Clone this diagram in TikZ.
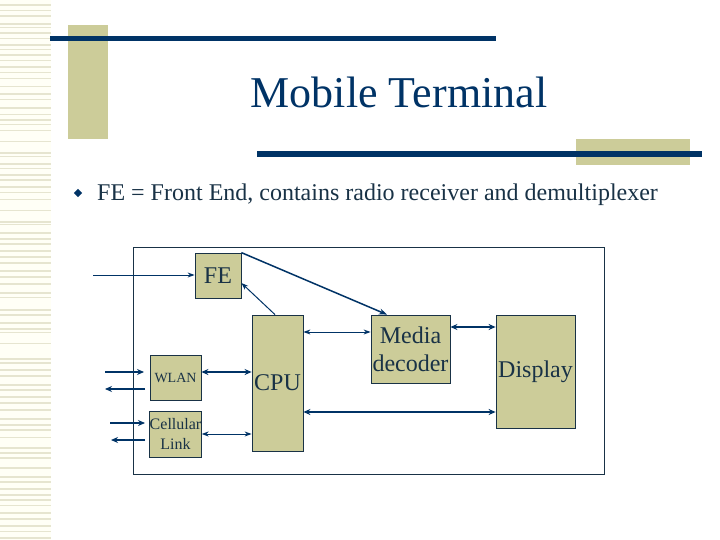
\documentclass[tikz,border=0pt]{standalone}
\usepackage{fontspec}
\setmainfont{Liberation Serif}
\usetikzlibrary{calc,arrows.meta}
\definecolor{navy}{RGB}{0,51,102}
\definecolor{olive}{RGB}{204,204,153}
\definecolor{txt}{RGB}{25,50,70}
\definecolor{cream}{RGB}{255,255,246}
\definecolor{stripe}{RGB}{230,229,208}
\tikzset{
  blk/.style={draw=txt, line width=0.8pt, fill=olive, text=txt, inner sep=0pt, align=center, font=\fontsize{24}{28}\selectfont},
  thin/.style={draw=navy, line width=1pt, -{Stealth[length=7pt,width=5pt]}},
  thk/.style={draw=navy, line width=2pt, -{Stealth[length=7pt,width=6pt]}},
  thinb/.style={draw=navy, line width=1pt, {Stealth[length=7pt,width=5pt]}-{Stealth[length=7pt,width=5pt]}},
  thkb/.style={draw=navy, line width=2pt, {Stealth[length=7pt,width=6pt]}-{Stealth[length=7pt,width=6pt]}},
}
\begin{document}
\begin{tikzpicture}[x=1pt,y=-1pt]
\useasboundingbox (0,0) rectangle (720,540);
\fill[white] (0,0) rectangle (720,540);
% left striped strip
\fill[cream] (0,0) rectangle (51,540);
\foreach \y/\h in {4/2,10/1.5,15/2,23/2,27/1,32/2,38/1.5,44/2,49/1,54/2,60/1.5,66/2,72/1,78/1.5,86/1,93/2,99/1.5,107/2,114/1.5,119/2,124/1,130/1.5,141/1,152/2,156/1.5,163/2,168/1.5,174/2,179/2,186/2,192/1,199/1.5,210/1,221/2,224/1.5,232/2,238/1.5,243/2,250/1.5,256/2,262/1.5,270/2,276/2,283/2,292/1.5,297/1,309/2,314/1.5,322/1.5,328/2,332/1,343/1,358/2,362/1.5,369/2,375/1.5,384/2,389/1.5,396/2,402/1.5,409/2,418/2,424/1.5,429/2,437/1,447/2,452/1.5,457/2,467/1.5,476/2,481/1.5,488/2,494/1.5,499/2,505/1,512/2,518/1.5,525/2,531/1,537/1.5}
  \fill[stripe] (0,\y) rectangle (51,\y+\h);
% decorations
\fill[olive] (68,25) rectangle (108,139);
\fill[navy] (50,36) rectangle (496,41);
\fill[olive] (576,139) rectangle (690,165);
\fill[navy] (257,151) rectangle (702,157);
% title
\node[text=navy, font=\fontsize{44}{50}\selectfont, anchor=base] (title) at (399,108) {Mobile Terminal};
% bullet
\node[fill=navy, shape=rectangle, rotate=45, inner sep=0pt, minimum width=6pt, minimum height=6pt] (bul) at (78,193) {};
\node[anchor=base west, text=txt, font=\fontsize{24}{28}\selectfont, inner sep=0pt] (btxt) at (97,201) {FE = Front End, contains radio receiver and demultiplexer};
% outer frame
\draw[draw=txt, line width=0.8pt] (133,247) rectangle (604,474);
% blocks
\node[blk, minimum width=46pt, minimum height=45pt] (FE) at (218,275.5) {FE};
\node[blk, minimum width=51pt, minimum height=136pt] (CPU) at (277.5,383) {CPU};
\node[blk, minimum width=51pt, minimum height=45pt, font=\fontsize{14}{16}\selectfont] (WLAN) at (175.5,377.5) {WLAN};
\node[blk, minimum width=51pt, minimum height=46pt, font=\fontsize{16}{20}\selectfont] (Cell) at (175.5,434) {Cellular\\Link};
\node[blk, minimum width=79pt, minimum height=68pt] (Media) at (410.5,349) {Media\\decoder};
\node[blk, minimum width=79pt, minimum height=113pt] (Disp) at (535.5,371.5) {Display};
% free ends
\coordinate (inA) at (93,275);
\coordinate (w1a) at (105,372); \coordinate (w1b) at (144,372);
\coordinate (w2a) at (145,389); \coordinate (w2b) at (105,389);
\coordinate (c1a) at (110,423); \coordinate (c1b) at (145,423);
\coordinate (c2a) at (145,440); \coordinate (c2b) at (111,440);
% connection points
\coordinate (cpuTop) at ($(CPU.north)+(-2.5,0)$);
\coordinate (feIn) at ($(FE.east)+(0,7.5)$);
\coordinate (mdTop) at ($(Media.north)+(-23.5,0)$);
\coordinate (wlR) at ($(WLAN.east)+(0,-5.5)$);
\coordinate (mdL) at ($(Media.west)+(0,-17)$);
\coordinate (mdR) at ($(Media.east)+(0,-22)$);
\coordinate (dsL) at ($(Disp.west)+(0,40.5)$);
% connectors
\draw[thin] (inA) -- (inA -| FE.west);
\draw[thin] (cpuTop) -- (feIn);
\draw[draw=navy, line width=1.5pt, -{Stealth[length=8pt,width=6pt]}] (FE.north east) -- (mdTop);
\draw[thkb] (wlR) -- (wlR -| CPU.west);
\draw[thinb] (Cell.east) -- (Cell.east -| CPU.west);
\draw[thinb] (mdL) -- (mdL -| CPU.east);
\draw[thkb] (mdR) -- (mdR -| Disp.west);
\draw[thkb] (dsL) -- (dsL -| CPU.east);
\draw[thk] (w1a) -- (w1b);
\draw[thk] (w2a) -- (w2b);
\draw[thk] (c1a) -- (c1b);
\draw[thk] (c2a) -- (c2b);
\end{tikzpicture}
\end{document}
